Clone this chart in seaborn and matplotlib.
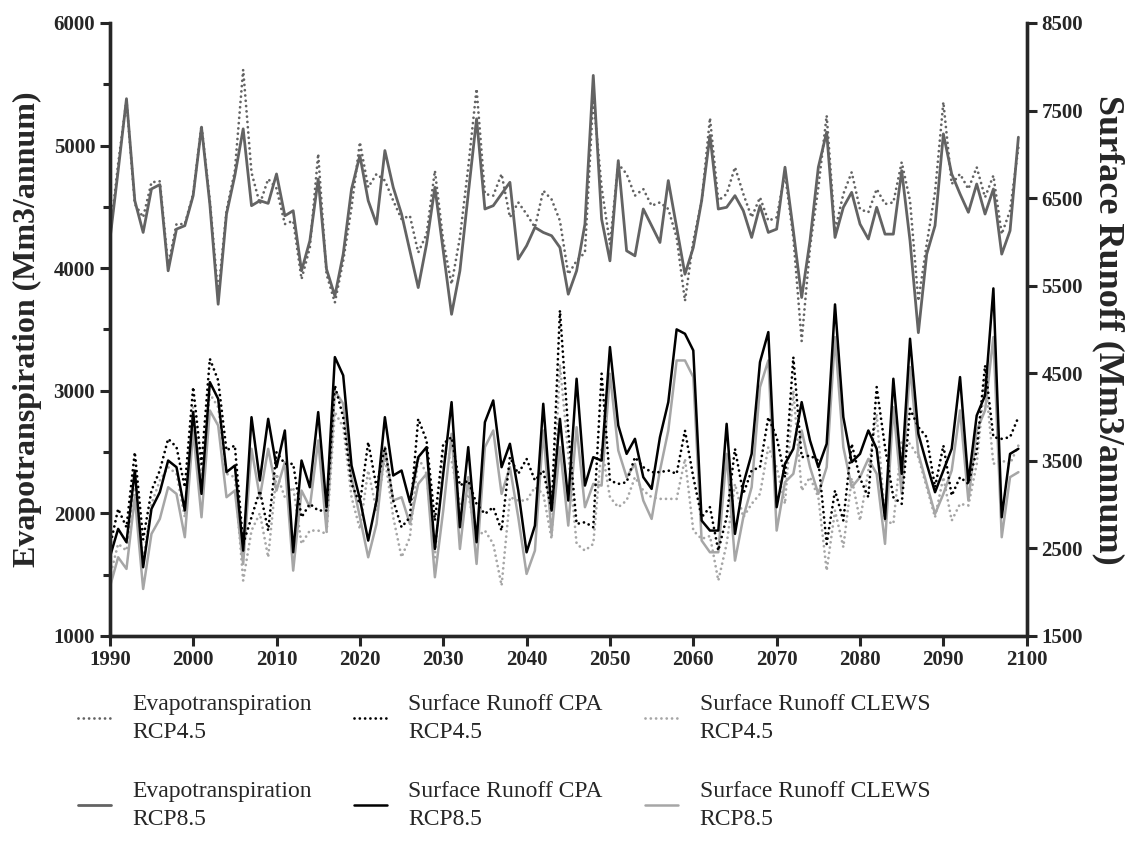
import numpy as np
import pandas as pd
import matplotlib
matplotlib.use("Agg")
import matplotlib.pyplot as plt
from matplotlib.ticker import MultipleLocator
import seaborn as sns

years = list(range(1990, 2100))

et_rcp45 = [4250, 4850, 5370, 4523, 4414, 4700, 4708, 4018, 4359, 4359,
            4605, 5163, 4550, 3787, 4468, 4795, 5619, 4780, 4523, 4727,
            4650, 4359, 4386, 3910, 4168, 4932, 3950, 3719, 4059, 4496,
            5027, 4659, 4768, 4714, 4550, 4400, 4427, 4127, 4277, 4795,
            4223, 3869, 4250, 4823, 5463, 4605, 4591, 4768, 4414, 4536,
            4441, 4332, 4632, 4560, 4386, 3950, 4059, 4127, 5395, 4659,
            4196, 4850, 4768, 4591, 4645, 4509, 4536, 4482, 4250, 3732,
            4223, 4540, 5225, 4550, 4605, 4823, 4605, 4414, 4577, 4386,
            4414, 4768, 4250, 3405, 4168, 4659, 5245, 4305, 4605, 4782,
            4480, 4455, 4645, 4523, 4536, 4864, 4550, 3732, 4196, 4620,
            5354, 4686, 4768, 4645, 4823, 4577, 4755, 4277, 4468, 4986]

et_rcp85 = [4223, 4795, 5382, 4550, 4291, 4646, 4681, 3978, 4318, 4346,
            4591, 5150, 4523, 3705, 4441, 4755, 5136, 4509, 4550, 4528,
            4768, 4427, 4468, 3978, 4223, 4727, 3991, 3773, 4114, 4645,
            4918, 4550, 4359, 4959, 4659, 4441, 4141, 3841, 4196, 4659,
            4141, 3623, 3978, 4605, 5218, 4482, 4509, 4605, 4700, 4073,
            4182, 4332, 4291, 4264, 4168, 3787, 3978, 4359, 5572, 4400,
            4059, 4877, 4141, 4100, 4482, 4346, 4209, 4714, 4332, 3950,
            4168, 4550, 5082, 4482, 4496, 4591, 4468, 4250, 4509, 4291,
            4318, 4823, 4305, 3760, 4223, 4823, 5109, 4250, 4496, 4618,
            4359, 4237, 4496, 4277, 4277, 4795, 4223, 3473, 4114, 4346,
            5095, 4768, 4605, 4455, 4686, 4441, 4645, 4114, 4305, 5068]

cpa_rcp45 = [2512, 2950, 2740, 3597, 2600, 3159, 3388, 3750, 3655, 3197,
             4340, 3464, 4664, 4417, 3617, 3674, 2550, 2854, 3159, 2702,
             3597, 3464, 3464, 2854, 3007, 2931, 2931, 4359, 3997, 3235,
             3007, 3712, 3197, 3655, 3045, 2740, 2854, 3978, 3731, 2816,
             3693, 3769, 3216, 3274, 3007, 2892, 2969, 2702, 3540, 3350,
             3521, 3274, 3388, 2931, 5217, 3845, 2778, 2797, 2740, 4493,
             3274, 3235, 3254, 3540, 3426, 3369, 3369, 3388, 3350, 3845,
             3312, 2854, 2969, 2473, 2854, 3636, 3121, 3388, 3426, 3997,
             3769, 3312, 4683, 3540, 3559, 3502, 2550, 3159, 2816, 3693,
             3300, 3083, 4340, 3655, 3083, 3007, 4093, 3883, 3769, 3197,
             3674, 3102, 3312, 3235, 3617, 4588, 3769, 3750, 3769, 3997]

cpa_rcp85 = [2397, 2721, 2569, 3388, 2283, 2950, 3140, 3502, 3426, 2931,
             4055, 3121, 4397, 4207, 3369, 3445, 2473, 3997, 3274, 3978,
             3426, 3845, 2454, 3502, 3197, 4055, 2969, 4683, 4474, 3445,
             3064, 2588, 3045, 3997, 3331, 3388, 3026, 3540, 3655, 2492,
             3350, 4169, 2740, 3655, 2569, 3940, 4188, 3426, 3693, 3159,
             2454, 2759, 4150, 2930, 3978, 3045, 4436, 3216, 3540, 3502,
             4798, 3902, 3578, 3750, 3312, 3178, 3769, 4169, 5000, 4950,
             4759, 2816, 2702, 2702, 3921, 2664, 3235, 3578, 4626, 4969,
             2969, 3464, 3636, 4169, 3731, 3426, 3693, 5285, 3997, 3483,
             3578, 3845, 3636, 2835, 4436, 3350, 4893, 3807, 3464, 3140,
             3388, 3636, 4455, 3254, 4016, 4245, 5468, 2854, 3578, 3636]

clews_rcp45 = [2169, 2550, 2473, 3197, 2359, 3007, 3274, 3426, 3350, 2854,
               4112, 3312, 4264, 4112, 3350, 3312, 2131, 2702, 2900, 2397,
               3350, 3083, 3197, 2550, 2702, 2702, 2664, 4055, 3883, 3083,
               2721, 3388, 2931, 3540, 2854, 2397, 2626, 3540, 3350, 2397,
               3617, 3502, 3007, 3121, 2626, 2702, 2550, 2074, 3083, 3045,
               3045, 3197, 3121, 2607, 4600, 3578, 2550, 2473, 2550, 3655,
               3083, 2969, 3045, 3312, 3159, 3083, 3064, 3064, 3064, 3521,
               2702, 2607, 2640, 2131, 2550, 3235, 2854, 3007, 3121, 3655,
               3426, 3007, 4302, 3159, 3312, 3083, 2245, 2931, 2512, 3300,
               2816, 3388, 4035, 2816, 2778, 3731, 3693, 3540, 3197, 2854,
               3312, 2816, 3007, 2988, 3464, 4455, 3464, 3502, 3464, 3674]

clews_rcp85 = [2054, 2397, 2264, 3083, 2035, 2664, 2835, 3197, 3121, 2626,
               3845, 2854, 4074, 3902, 3083, 3159, 2321, 3636, 3083, 3636,
               3159, 3483, 2245, 3159, 2969, 3731, 2702, 4302, 4150, 3312,
               2854, 2397, 2778, 3655, 3045, 3083, 2778, 3235, 3350, 2169,
               2931, 3807, 2492, 3312, 2321, 3655, 3845, 3121, 3426, 2854,
               2207, 2473, 3845, 2664, 3655, 2759, 3883, 2969, 3235, 3216,
               4493, 3617, 3312, 3464, 3045, 2835, 3388, 3845, 4645, 4645,
               4455, 2588, 2454, 2454, 3578, 2359, 2854, 3197, 4340, 4645,
               2702, 3254, 3350, 3845, 3426, 3121, 3426, 4912, 3655, 3197,
               3312, 3521, 3350, 2550, 4112, 3121, 4569, 3578, 3235, 2892,
               3121, 3388, 4074, 3045, 3845, 4074, 4912, 2626, 3312, 3369]

labels = ["Evapotranspiration\nRCP4.5", "Evapotranspiration\nRCP8.5",
          "Surface Runoff CPA\nRCP4.5", "Surface Runoff CPA\nRCP8.5",
          "Surface Runoff CLEWS\nRCP4.5", "Surface Runoff CLEWS\nRCP8.5"]

left_ticks = [1000, 2000, 3000, 4000, 5000, 6000]
right_ticks = [1500, 2500, 3500, 4500, 5500, 6500, 7500, 8500]
x_ticks = list(range(1990, 2101, 10))

sns.set_style("ticks")
plt.rcParams['font.family'] = ['Liberation Serif', 'DejaVu Serif']

fig = plt.figure(figsize=(11.32, 8.5), dpi=100)
ax = fig.add_axes([0.097, 0.252, 0.81, 0.721])
ax2 = ax.twinx()

dot = (0, (0.01, 1.9))
ET_COL = "#636363"
CPA_COL = "#000000"
CLEWS_COL = "#a6a6a6"

def draw(axis, vals, color, style, lw):
    df = pd.DataFrame({"year": years, "value": vals})
    sns.lineplot(data=df, x="year", y="value", ax=axis, color=color,
                 linewidth=lw, legend=False)
    line = axis.lines[-1]
    if style == "dot":
        line.set_linestyle(dot)
        line.set_dash_capstyle("round")
    return line

h_et45 = draw(ax, et_rcp45, ET_COL, "dot", 2.0)
h_et85 = draw(ax, et_rcp85, ET_COL, "solid", 2.0)
h_cl45 = draw(ax2, clews_rcp45, CLEWS_COL, "dot", 2.0)
h_cl85 = draw(ax2, clews_rcp85, CLEWS_COL, "solid", 1.8)
h_cp45 = draw(ax2, cpa_rcp45, CPA_COL, "dot", 2.0)
h_cp85 = draw(ax2, cpa_rcp85, CPA_COL, "solid", 1.8)

ax.set_xlim(1990, 2100)
ax.set_ylim(1000, 6000)
ax2.set_ylim(1500, 8500)
ax.set_xticks(x_ticks)
ax.set_yticks(left_ticks)
ax.yaxis.set_minor_locator(MultipleLocator(500))
ax2.set_yticks(right_ticks)

for a in (ax, ax2):
    for s in a.spines.values():
        s.set_linewidth(2.4)
    a.spines['top'].set_visible(False)
    a.tick_params(axis='both', which='major', length=7, width=2.2,
                  labelsize=15, direction='out')
    a.tick_params(axis='both', which='minor', length=5, width=2.2)
    for lbl in a.get_xticklabels() + a.get_yticklabels():
        lbl.set_fontweight('bold')

ax.set_xlabel("")
ax.set_ylabel("Evapotranspiration (Mm3/annum)", fontsize=23,
              fontweight='bold', labelpad=8)
ax2.set_ylabel("Surface Runoff (Mm3/annum)", fontsize=26, fontweight='bold',
               rotation=270, labelpad=30)

handles = [h_et45, h_et85, h_cp45, h_cp85, h_cl45, h_cl85]
leg = fig.legend(handles, labels, loc='upper left',
                 bbox_to_anchor=(0.05, 0.209),
                 ncol=3, frameon=False, fontsize=17, handlelength=1.4,
                 columnspacing=1.8, labelspacing=1.6, handletextpad=0.9)
for t in leg.get_texts():
    t.set_linespacing(1.45)

fig.savefig("out.png", dpi=100)
